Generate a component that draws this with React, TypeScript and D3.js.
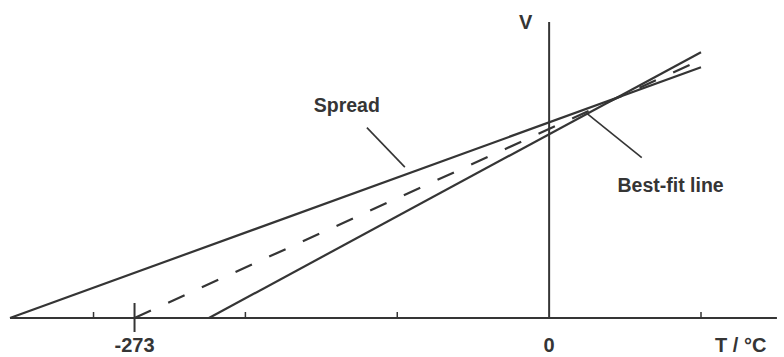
import React, { useEffect, useRef } from "react";
import * as d3 from "d3";

// temperature (°C) and volume (arbitrary units) at each end of the lines
const spreadUpperT = [-355, 100];
const spreadUpperV = [0, 133];
const spreadLowerT = [-224, 100];
const spreadLowerV = [0, 141];
const bestFitT = [-273, 100];
const bestFitV = [0, 137];

const xTicks = [-300, -200, -100, 100];
const absoluteZero = -273;
const xLabels = [
  { t: -273, text: "-273" },
  { t: 0, text: "0" },
];

// annotations in data coordinates
const spreadLabel = { t: -155, v: 109, text: "Spread" };
const spreadLeader = [
  { t: -120, v: 101 },
  { t: -95, v: 80 },
];
const fitLabel = { t: 45, v: 67, text: "Best-fit line" };
const fitLeader = [
  { t: 24, v: 109 },
  { t: 61, v: 85 },
];

function App() {
  const width = 784;
  const height = 357;
  const svgRef = useRef(null);

  useEffect(() => {
    const svg = d3.select(svgRef.current);
    svg.selectAll("*").remove();

    const ink = "#353535";
    const font = "'Liberation Sans', Arial, sans-serif";

    const x = d3.scaleLinear().domain([-355, 100]).range([10, 701]);
    const y = d3.scaleLinear().domain([0, 157]).range([318, 22]);

    const g = svg.append("g");

    //axes
    g.append("line")
      .attr("x1", x(-355))
      .attr("x2", x(150))
      .attr("y1", y(0))
      .attr("y2", y(0))
      .attr("stroke", ink)
      .attr("stroke-width", 2);

    g.append("line")
      .attr("x1", x(0))
      .attr("x2", x(0))
      .attr("y1", y(0))
      .attr("y2", y(157))
      .attr("stroke", ink)
      .attr("stroke-width", 2);

    g.selectAll(".tick")
      .data(xTicks)
      .enter()
      .append("line")
      .attr("x1", (d) => x(d))
      .attr("x2", (d) => x(d))
      .attr("y1", y(0))
      .attr("y2", y(0) - 6)
      .attr("stroke", ink)
      .attr("stroke-width", 1.5);

    g.append("line")
      .attr("x1", x(absoluteZero))
      .attr("x2", x(absoluteZero))
      .attr("y1", y(0) - 15)
      .attr("y2", y(0) + 14)
      .attr("stroke", ink)
      .attr("stroke-width", 2);

    g.selectAll(".xlabel")
      .data(xLabels)
      .enter()
      .append("text")
      .attr("x", (d) => x(d.t))
      .attr("y", 352)
      .attr("text-anchor", "middle")
      .attr("font-family", font)
      .attr("font-weight", "bold")
      .attr("font-size", 20)
      .attr("fill", ink)
      .text((d) => d.text);

    g.append("text")
      .attr("x", 715)
      .attr("y", 352)
      .attr("font-family", font)
      .attr("font-weight", "bold")
      .attr("font-size", 20)
      .attr("fill", ink)
      .text("T / °C");

    g.append("text")
      .attr("x", 519)
      .attr("y", 29)
      .attr("font-family", font)
      .attr("font-weight", "bold")
      .attr("font-size", 20)
      .attr("fill", ink)
      .text("V");

    //lines
    const line = d3
      .line()
      .x((d) => x(d[0]))
      .y((d) => y(d[1]));

    const series = [
      { t: spreadUpperT, v: spreadUpperV, dash: null },
      { t: spreadLowerT, v: spreadLowerV, dash: null },
      { t: bestFitT, v: bestFitV, dash: "18,19" },
    ];

    g.selectAll(".series")
      .data(series)
      .enter()
      .append("path")
      .attr("d", (d) => line(d.t.map((t, i) => [t, d.v[i]])))
      .attr("fill", "none")
      .attr("stroke", ink)
      .attr("stroke-width", 2.2)
      .attr("stroke-dasharray", (d) => d.dash);

    //annotations
    const leader = d3
      .line()
      .x((d) => x(d.t))
      .y((d) => y(d.v));

    [spreadLeader, fitLeader].forEach((pts) => {
      g.append("path")
        .attr("d", leader(pts))
        .attr("fill", "none")
        .attr("stroke", ink)
        .attr("stroke-width", 1.6);
    });

    [spreadLabel, fitLabel].forEach((lab) => {
      g.append("text")
        .attr("x", x(lab.t))
        .attr("y", y(lab.v))
        .attr("font-family", font)
        .attr("font-weight", "bold")
        .attr("font-size", 19.5)
        .attr("fill", ink)
        .text(lab.text);
    });
  }, []);

  return (
    <svg
      ref={svgRef}
      width={width}
      height={height}
      style={{ position: "absolute", left: 0, top: 0, background: "#fff" }}
    ></svg>
  );
}

export default App;
